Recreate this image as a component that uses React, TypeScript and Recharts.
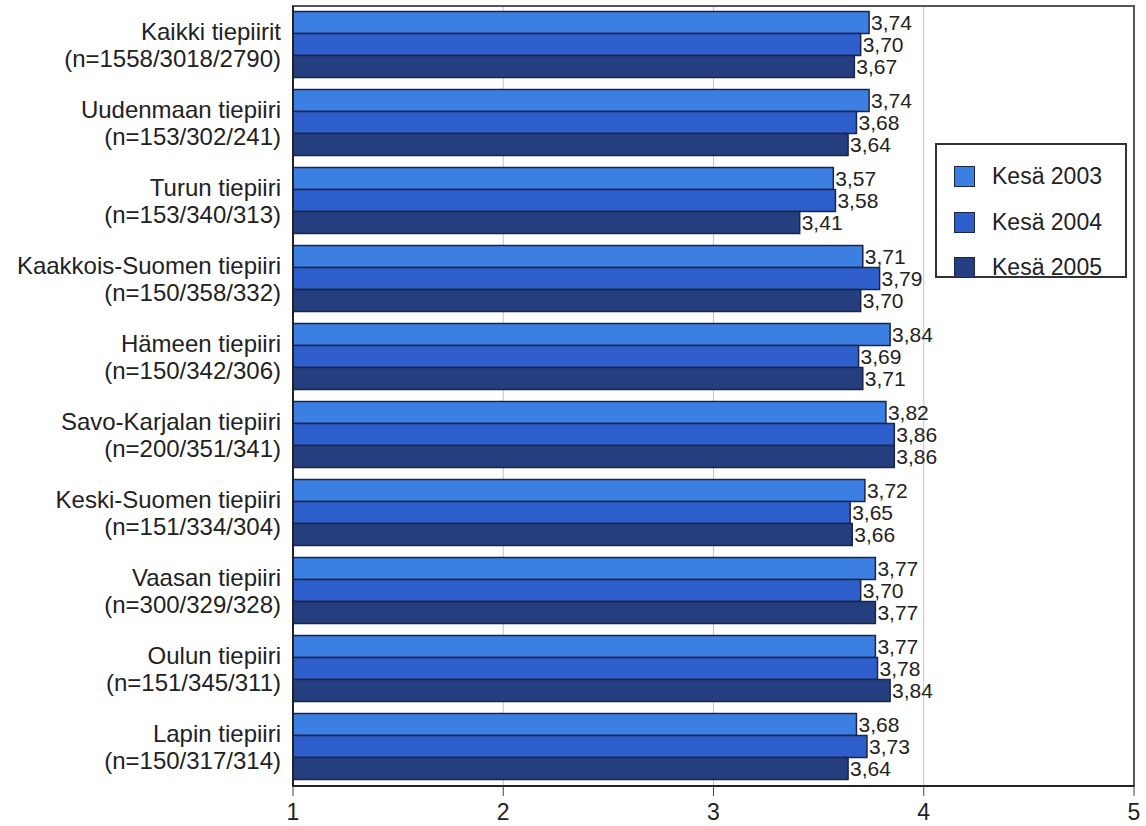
import { Bar, BarChart, CartesianGrid, LabelList, Legend, ReferenceArea, XAxis, YAxis } from "recharts";

const districts = [
  "Kaikki tiepiirit",
  "Uudenmaan tiepiiri",
  "Turun tiepiiri",
  "Kaakkois-Suomen tiepiiri",
  "Hämeen tiepiiri",
  "Savo-Karjalan tiepiiri",
  "Keski-Suomen tiepiiri",
  "Vaasan tiepiiri",
  "Oulun tiepiiri",
  "Lapin tiepiiri",
];
const sampleSizes = [
  "(n=1558/3018/2790)",
  "(n=153/302/241)",
  "(n=153/340/313)",
  "(n=150/358/332)",
  "(n=150/342/306)",
  "(n=200/351/341)",
  "(n=151/334/304)",
  "(n=300/329/328)",
  "(n=151/345/311)",
  "(n=150/317/314)",
];
const summer2003 = [3.74, 3.74, 3.57, 3.71, 3.84, 3.82, 3.72, 3.77, 3.77, 3.68];
const summer2004 = [3.7, 3.68, 3.58, 3.79, 3.69, 3.86, 3.65, 3.7, 3.78, 3.73];
const summer2005 = [3.67, 3.64, 3.41, 3.7, 3.71, 3.86, 3.66, 3.77, 3.84, 3.64];
const majorTicks = [1, 2, 3, 4, 5];
const minorTicks = [1.2, 1.4, 1.6, 1.8, 2.2, 2.4, 2.6, 2.8, 3.2, 3.4, 3.6, 3.8, 4.2, 4.4, 4.6, 4.8];

const series = [
  { key: "s2003", name: "Kesä 2003", color: "#3c7fe2" },
  { key: "s2004", name: "Kesä 2004", color: "#2e5ecb" },
  { key: "s2005", name: "Kesä 2005", color: "#253e7f" },
];

const FONT = "'Liberation Sans', Arial, sans-serif";
const OUTLINE = "#1b2545";

const data = districts.map((d, i) => ({
  name: d,
  n: sampleSizes[i],
  s2003: summer2003[i],
  s2004: summer2004[i],
  s2005: summer2005[i],
}));

const fmt = (v: number) => v.toFixed(2).replace(".", ",");

function DistrictTick(props: any) {
  const { y, payload } = props;
  const row = data[payload.index] ?? data.find((r) => r.name === payload.value);
  return (
    <g>
      <text x={281} y={y - 5} textAnchor="end" fontSize={24} fill="#222" fontFamily={FONT}>
        {payload.value}
      </text>
      <text x={281} y={y + 22} textAnchor="end" fontSize={24} fill="#222" fontFamily={FONT}>
        {row ? row.n : ""}
      </text>
    </g>
  );
}

function LegendBox() {
  return (
    <div
      style={{
        width: 192,
        height: 135,
        border: "2px solid #333",
        background: "#fff",
        boxSizing: "border-box",
        paddingTop: 9,
        fontFamily: FONT,
      }}
    >
      {series.map((s) => (
        <div key={s.key} style={{ display: "flex", alignItems: "center", height: 45.5 }}>
          <span
            style={{
              display: "inline-block",
              width: 19,
              height: 19,
              marginLeft: 17,
              background: s.color,
              border: `1.5px solid ${OUTLINE}`,
            }}
          />
          <span style={{ marginLeft: 17, fontSize: 23, color: "#222" }}>{s.name}</span>
        </div>
      ))}
    </div>
  );
}

export default function App() {
  return (
    <div style={{ position: "absolute", left: 0, top: 0, background: "#fff" }}>
      <BarChart
        width={1146}
        height={826}
        data={data}
        layout="vertical"
        margin={{ top: 6, right: 12, bottom: 0, left: 0 }}
        barCategoryGap={5.5}
        barGap={0}
      >
        <CartesianGrid horizontal={false} vertical stroke="#c4c4c4" strokeWidth={1} />
        <XAxis
          xAxisId="minor"
          type="number"
          domain={[1, 5]}
          ticks={minorTicks}
          tickFormatter={() => ""}
          tickSize={4}
          axisLine={false}
          tickLine={{ stroke: "#444" }}
          height={0}
        />
        <XAxis
          type="number"
          domain={[1, 5]}
          ticks={majorTicks}
          allowDataOverflow
          tickSize={10}
          tickMargin={8}
          height={40}
          axisLine={{ stroke: "#222", strokeWidth: 2 }}
          tickLine={{ stroke: "#444" }}
          tick={{ fontSize: 23, fill: "#222", fontFamily: FONT }}
        />
        <YAxis
          type="category"
          dataKey="name"
          width={293}
          tickLine={false}
          axisLine={{ stroke: "#222", strokeWidth: 2 }}
          tick={<DistrictTick />}
          interval={0}
        />
        <ReferenceArea x1={1} x2={5} fill="none" stroke="#555" strokeWidth={2} ifOverflow="visible" />
        {series.map((s) => (
          <Bar
            key={s.key}
            dataKey={s.key}
            name={s.name}
            fill={s.color}
            stroke={OUTLINE}
            strokeWidth={1.5}
            isAnimationActive={false}
          >
            <LabelList
              dataKey={s.key}
              position="right"
              offset={2}
              formatter={(v: any) => fmt(Number(v))}
              style={{ fontSize: 21, fill: "#222", fontFamily: FONT }}
            />
          </Bar>
        ))}
        <Legend
          layout="vertical"
          verticalAlign="middle"
          align="center"
          content={<LegendBox />}
          wrapperStyle={{ position: "absolute", left: 935, top: 143, width: 192, height: 135 }}
        />
      </BarChart>
    </div>
  );
}
